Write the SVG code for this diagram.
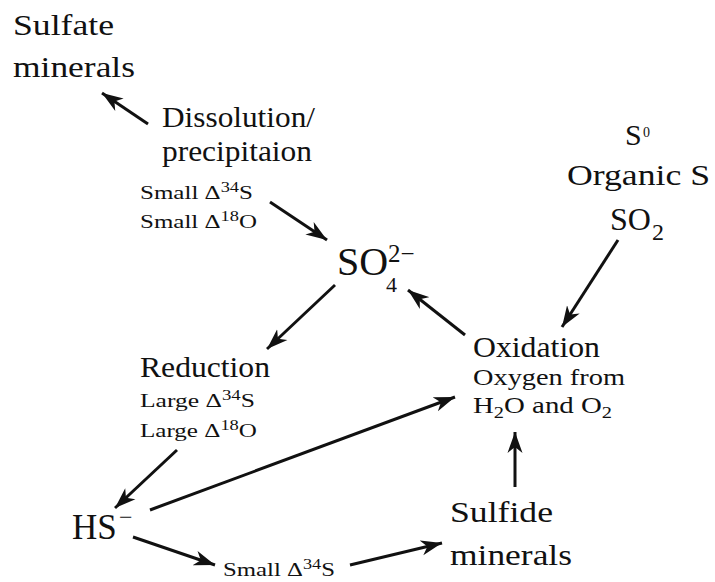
<svg xmlns="http://www.w3.org/2000/svg" width="715" height="582" viewBox="0 0 715 582" font-family="Liberation Serif, serif">
<style>
text{fill:#111;}
.big{font-size:30px;}
.mid{font-size:24px;}
.sm{font-size:19px;}
.conn line{stroke:#111;stroke-width:3;marker-end:url(#ah);}
</style>
<defs>
<marker id="ah" viewBox="-21 -8 22 16" refX="0" refY="0" markerWidth="22" markerHeight="16" orient="auto" markerUnits="userSpaceOnUse">
<path d="M0,0 L-21,-7.5 L-15,0 L-21,7.5 Z" fill="#111"/>
</marker>
</defs>
<rect width="715" height="582" fill="#fff"/>
<g id="sulfate-minerals">
<text class="big" x="13" y="35" textLength="101" lengthAdjust="spacingAndGlyphs">Sulfate</text>
<text class="big" x="13" y="77" textLength="122" lengthAdjust="spacingAndGlyphs">minerals</text>
</g>
<g id="dissolution">
<text class="big" x="162" y="127" textLength="153" lengthAdjust="spacingAndGlyphs">Dissolution/</text>
<text class="big" x="162" y="161" textLength="150" lengthAdjust="spacingAndGlyphs">precipitaion</text>
<text class="sm" x="140" y="199" textLength="113" lengthAdjust="spacingAndGlyphs">Small Δ<tspan font-size="14" dy="-7">34</tspan><tspan dy="7">S</tspan></text>
<text class="sm" x="140" y="228" textLength="117" lengthAdjust="spacingAndGlyphs">Small Δ<tspan font-size="14" dy="-7">18</tspan><tspan dy="7">O</tspan></text>
</g>
<g id="sulfate">
<text x="337" y="275" font-size="40">SO</text>
<text x="388" y="262" font-size="25">2−</text>
<text x="386" y="292" font-size="22">4</text>
</g>
<g id="sources">
<text x="625" y="145" font-size="30">S</text>
<text x="643" y="137" font-size="14">0</text>
<text class="big" x="567" y="185" textLength="143" lengthAdjust="spacingAndGlyphs">Organic S</text>
<text x="610" y="230" font-size="32">SO</text>
<text x="652" y="240" font-size="24">2</text>
</g>
<g id="oxidation">
<text class="big" x="473" y="357" textLength="127" lengthAdjust="spacingAndGlyphs">Oxidation</text>
<text class="mid" x="473" y="385" textLength="152" lengthAdjust="spacingAndGlyphs">Oxygen from</text>
<text class="mid" x="473" y="413" textLength="139" lengthAdjust="spacingAndGlyphs">H<tspan font-size="17" dy="5">2</tspan><tspan dy="-5">O and O</tspan><tspan font-size="17" dy="5">2</tspan></text>
</g>
<g id="reduction">
<text class="big" x="140" y="377" textLength="130" lengthAdjust="spacingAndGlyphs">Reduction</text>
<text class="sm" x="140" y="407" textLength="115" lengthAdjust="spacingAndGlyphs">Large Δ<tspan font-size="14" dy="-7">34</tspan><tspan dy="7">S</tspan></text>
<text class="sm" x="140" y="437" textLength="117" lengthAdjust="spacingAndGlyphs">Large Δ<tspan font-size="14" dy="-7">18</tspan><tspan dy="7">O</tspan></text>
</g>
<g id="hs">
<text x="72" y="539" font-size="35">HS</text>
<text x="119" y="525" font-size="24">−</text>
</g>
<g id="small-34s">
<text class="sm" x="223" y="576" textLength="112" lengthAdjust="spacingAndGlyphs">Small Δ<tspan font-size="14" dy="-7">34</tspan><tspan dy="7">S</tspan></text>
</g>
<g id="sulfide-minerals">
<text class="big" x="450" y="522" textLength="103" lengthAdjust="spacingAndGlyphs">Sulfide</text>
<text class="big" x="450" y="565" textLength="122" lengthAdjust="spacingAndGlyphs">minerals</text>
</g>
<g id="connectors" class="conn">
<line x1="148" y1="124" x2="102" y2="93"/>
<line x1="270" y1="202" x2="327" y2="240"/>
<line x1="335" y1="285" x2="267" y2="349"/>
<line x1="465" y1="335" x2="408" y2="290"/>
<line x1="618" y1="240" x2="562" y2="327"/>
<line x1="515" y1="487" x2="515" y2="432"/>
<line x1="177" y1="450" x2="115" y2="508"/>
<line x1="150" y1="510" x2="455" y2="397"/>
<line x1="133" y1="537" x2="215" y2="565"/>
<line x1="350" y1="565" x2="442" y2="543"/>
</g>
</svg>
